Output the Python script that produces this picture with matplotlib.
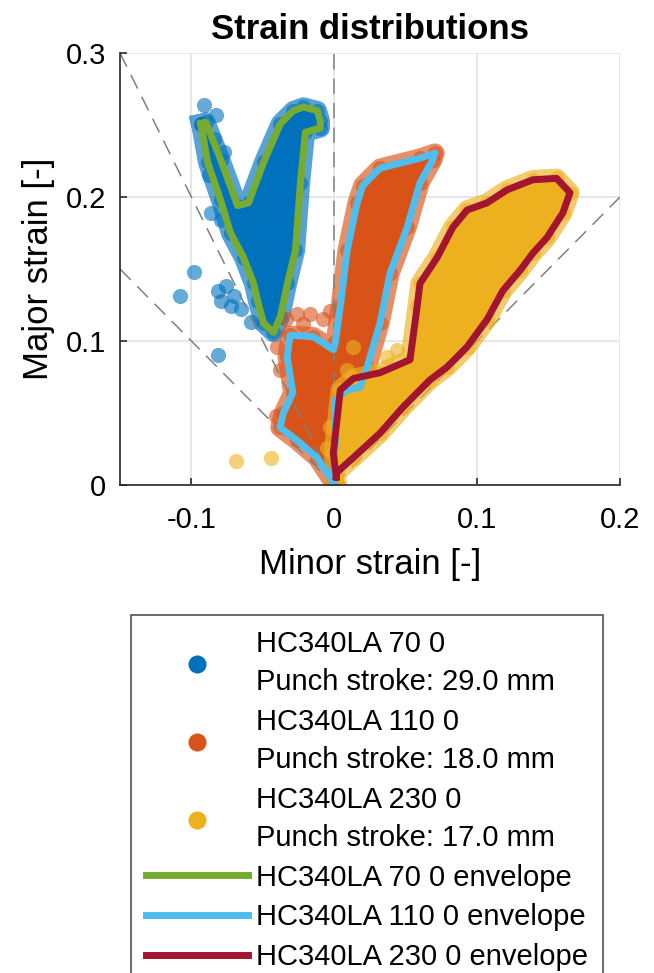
import numpy as np
import matplotlib
matplotlib.use('Agg')
import matplotlib.pyplot as plt
from matplotlib.lines import Line2D

plt.rcParams['font.family'] = ['Liberation Sans', 'DejaVu Sans']

# envelope of HC340LA 70 0 (minor, major strain)
env70_x = [-0.0935, -0.0886, -0.0796, -0.0726, -0.0635, -0.0565, -0.0537, -0.0495, -0.0426,
           -0.0377, -0.0328, -0.0272, -0.0237, -0.0202, -0.0098, -0.0098, -0.0119, -0.0216,
           -0.0286, -0.0377, -0.0495, -0.0600, -0.0677, -0.0796, -0.0900, -0.0935]
env70_y = [0.251, 0.224, 0.198, 0.175, 0.158, 0.140, 0.128, 0.1125, 0.106,
           0.117, 0.140, 0.163, 0.210, 0.245, 0.248, 0.253, 0.260, 0.2625,
           0.260, 0.251, 0.224, 0.196, 0.194, 0.226, 0.252, 0.251]

# envelope of HC340LA 110 0
env110_x = [-0.0007, -0.012, -0.026, -0.038, -0.0356, -0.029, -0.033, -0.031, -0.0147, -0.0007,
            0.0007, 0.0042, 0.009, 0.016, 0.020, 0.032, 0.060, 0.0705, 0.069, 0.060,
            0.051, 0.039, 0.032, 0.023, 0.018, 0.009, 0.0007, 0.0007, -0.0007]
env110_y = [0.002, 0.019, 0.031, 0.040, 0.050, 0.064, 0.089, 0.104, 0.103, 0.094,
            0.099, 0.124, 0.163, 0.196, 0.208, 0.220, 0.227, 0.2305, 0.226, 0.210,
            0.179, 0.147, 0.1125, 0.082, 0.068, 0.066, 0.059, 0.031, 0.002]

# envelope of HC340LA 230 0
env230_x = [0.0014, -0.0007, 0.0042, 0.0133, 0.032, 0.053, 0.058, 0.060, 0.072, 0.083,
            0.093, 0.107, 0.121, 0.139, 0.1556, 0.165, 0.160, 0.149, 0.139, 0.130,
            0.118, 0.107, 0.093, 0.079, 0.067, 0.048, 0.032, 0.0133, 0.002, 0.0014]
env230_y = [0.0056, 0.022, 0.066, 0.074, 0.078, 0.087, 0.124, 0.140, 0.158, 0.179,
            0.191, 0.196, 0.205, 0.212, 0.213, 0.203, 0.189, 0.172, 0.161, 0.149,
            0.135, 0.115, 0.096, 0.082, 0.073, 0.054, 0.036, 0.019, 0.009, 0.0056]

# strain points lying outside the envelopes
pts70_x = [-0.0914, -0.083, -0.098, -0.108, -0.0816, -0.0796, -0.0816, -0.0726, -0.058,
           -0.0865, -0.0796, -0.0775, -0.0760, -0.0700, -0.0650, -0.0840, -0.0880]
pts70_y = [0.264, 0.257, 0.148, 0.131, 0.090, 0.128, 0.135, 0.124, 0.113,
           0.189, 0.184, 0.231, 0.138, 0.131, 0.122, 0.240, 0.215]
pts110_x = [-0.040, -0.038, -0.026, -0.017, -0.003, -0.034, -0.008, -0.041, -0.022]
pts110_y = [0.096, 0.080, 0.119, 0.119, 0.121, 0.115, 0.115, 0.048, 0.112]
pts230_x = [-0.069, -0.044, 0.013, 0.009, -0.003, -0.005, 0.044, 0.037]
pts230_y = [0.017, 0.019, 0.096, 0.080, 0.040, 0.026, 0.094, 0.089]

names = ['HC340LA 70 0', 'HC340LA 110 0', 'HC340LA 230 0']
strokes = [29.0, 18.0, 17.0]
cloud_colors = ['#0072BD', '#D95319', '#EDB120']
env_colors = ['#77AC30', '#4DBEEE', '#A2142F']

envelopes = [(env70_x, env70_y), (env110_x, env110_y), (env230_x, env230_y)]
outliers = [(pts70_x, pts70_y), (pts110_x, pts110_y), (pts230_x, pts230_y)]

fig = plt.figure(figsize=(6.54, 9.73), dpi=100)
ax = fig.add_axes([0.1835, 0.5015, 0.7645, 0.444])

gray = '#808080'
for i in range(3):
    ex, ey = envelopes[i]
    px, py = outliers[i]
    c = cloud_colors[i]
    z = 2 + i
    ax.fill(ex, ey, color=c, lw=0, zorder=z)
    ax.plot(ex, ey, color=c, lw=14, alpha=0.65, solid_joinstyle='round', zorder=z)
    ax.scatter(ex + px, ey + py, s=120, color=c, alpha=0.6, lw=0, zorder=z)
    if i == 1:
        # forming limit reference lines
        ax.plot([-0.15, 0], [0.3, 0], color=gray, lw=1.1, dashes=(10, 6), zorder=3.5)
        ax.plot([-0.15, 0], [0.15, 0], color=gray, lw=1.1, dashes=(10, 6), zorder=3.5)
        ax.plot([0, 0], [0, 0.3], color=gray, lw=1.1, dashes=(10, 6), zorder=3.5)
        ax.plot([0, 0.2], [0, 0.2], color=gray, lw=1.1, dashes=(10, 6), zorder=3.5)

for i in range(3):
    ex, ey = envelopes[i]
    ax.plot(ex, ey, color=env_colors[i], lw=5, solid_joinstyle='round', zorder=6 + i)

ax.set_xlim(-0.15, 0.2)
ax.set_ylim(0, 0.3)
ax.set_xticks([-0.1, 0, 0.1, 0.2])
ax.set_xticklabels(['-0.1', '0', '0.1', '0.2'])
ax.set_yticks([0, 0.1, 0.2, 0.3])
ax.set_yticklabels(['0', '0.1', '0.2', '0.3'])
ax.grid(True, color='#e3e3e3', lw=1.2, zorder=0)
ax.set_axisbelow(True)
for s in ['top', 'right']:
    ax.spines[s].set_visible(False)
for s in ['left', 'bottom']:
    ax.spines[s].set_color('#262626')
    ax.spines[s].set_linewidth(1.2)
    ax.spines[s].set_zorder(10)
ax.tick_params(direction='in', length=5, width=1.2, color='#262626', labelsize=21)
ax.tick_params(axis='x', pad=15)
ax.tick_params(axis='y', pad=10)
ax.set_xlabel('Minor strain [-]', fontsize=25, labelpad=10)
ax.set_ylabel('Major strain [-]', fontsize=25, labelpad=8)
ax.set_title('Strain distributions', fontsize=25, fontweight='bold', pad=10)

handles = []
labels = []
for i in range(3):
    handles.append(Line2D([], [], ls='none', marker='o', ms=13, mfc=cloud_colors[i], mec='none'))
    labels.append(names[i] + '\nPunch stroke: %.1f mm' % strokes[i])
for i in range(3):
    handles.append(Line2D([], [], color=env_colors[i], lw=5))
    labels.append(names[i] + ' envelope')

leg = fig.legend(handles, labels, loc='upper left', bbox_to_anchor=(131 / 654, 1 - 615 / 973),
                 fontsize=21, frameon=True, fancybox=False, edgecolor='#262626',
                 handlelength=3.5, handletextpad=0.3, labelspacing=0.40, borderpad=0.5,
                 borderaxespad=0)
leg.get_frame().set_linewidth(1.2)
for t in leg.get_texts():
    t.set_linespacing(1.47)

fig.savefig('out.png', dpi=100)
